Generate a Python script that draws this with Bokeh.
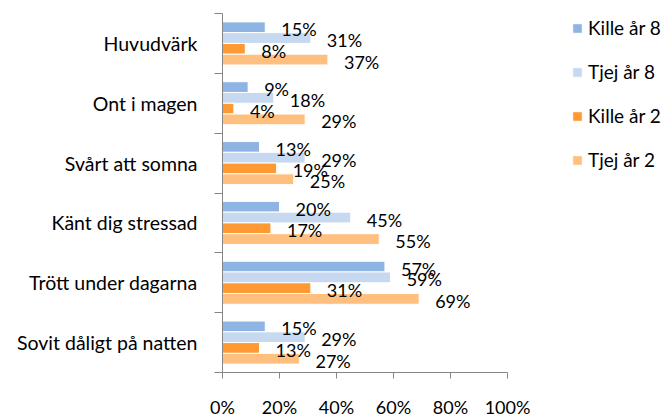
from bokeh.plotting import figure
from bokeh.models import ColumnDataSource, FixedTicker, Legend, LegendItem, Range1d
from bokeh.core.properties import value
from bokeh.embed import file_html
from bokeh.resources import INLINE

categories = ["Huvudvärk", "Ont i magen", "Svårt att somna", "Känt dig stressad",
              "Trött under dagarna", "Sovit dåligt på natten"]
series_names = ["Kille år 8", "Tjej år 8", "Kille år 2", "Tjej år 2"]
kille_ar8 = [15, 9, 13, 20, 57, 15]
tjej_ar8 = [31, 18, 29, 45, 59, 29]
kille_ar2 = [8, 4, 19, 17, 31, 13]
tjej_ar2 = [37, 29, 25, 55, 69, 27]
x_ticks = [0, 20, 40, 60, 80, 100]
x_tick_labels = ["0%", "20%", "40%", "60%", "80%", "100%"]
colors = ["#8EB4E3", "#C6D9F1", "#FF9933", "#FFBF7F"]

series = [kille_ar8, tjej_ar8, kille_ar2, tjej_ar2]
n = len(categories)
centers = [n - i - 0.5 for i in range(n)]
bar_h = 0.18
offsets = [0.27 - bar_h * j for j in range(len(series))]

FONT = "Lato"

p = figure(frame_width=285, frame_height=359, output_backend="svg", toolbar_location=None,
           x_range=Range1d(0, 100), y_range=Range1d(0, n),
           min_border_left=222, min_border_right=157, min_border_top=13, min_border_bottom=45)
p.outline_line_color = None
p.xgrid.grid_line_color = None
p.ygrid.grid_line_color = None
p.background_fill_color = "white"
p.border_fill_color = "white"

sources = []
renderers = []
for j, vals in enumerate(series):
    ys = [c + offsets[j] for c in centers]
    src = ColumnDataSource(dict(y=ys, right=vals, text=[f"{v}%" for v in vals]))
    sources.append(src)
    r = p.hbar(y="y", left=0, right="right", height=bar_h, source=src,
               fill_color=colors[j], line_color="white", line_width=1)
    renderers.append(r)

for src in sources:
    p.text(x="right", y="y", text="text", source=src, x_offset=16, y_offset=2,
           text_align="left", text_baseline="middle", text_font=value(FONT),
           text_font_size="18px", text_color="#000000")

# axes
p.xaxis.ticker = FixedTicker(ticks=x_ticks)
p.xaxis.major_label_overrides = {t: l for t, l in zip(x_ticks, x_tick_labels)}
p.xaxis.major_tick_out = 6
p.xaxis.major_tick_in = 0
p.xaxis.minor_tick_out = 0
p.xaxis.minor_tick_in = 0
p.xaxis.major_label_standoff = 17
p.xaxis.major_label_text_font_size = "18px"

p.yaxis.ticker = FixedTicker(ticks=centers, minor_ticks=list(range(n + 1)))
p.yaxis.major_label_overrides = {c: cat for c, cat in zip(centers, categories)}
p.yaxis.major_tick_out = 0
p.yaxis.major_tick_in = 0
p.yaxis.minor_tick_out = 8
p.yaxis.minor_tick_in = 0
p.yaxis.major_label_standoff = 17
p.yaxis.major_label_text_font_size = "19.5px"

for ax in (p.xaxis[0], p.yaxis[0]):
    ax.axis_line_color = "#868686"
    ax.major_tick_line_color = "#868686"
    ax.minor_tick_line_color = "#868686"
    ax.major_label_text_font = FONT
    ax.major_label_text_color = "#000000"

legend = Legend(items=[LegendItem(label=nm, renderers=[r]) for nm, r in zip(series_names, renderers)],
                location=(64, 201), padding=0, margin=0, spacing=21,
                glyph_width=12, glyph_height=12, label_height=20, label_standoff=5,
                border_line_color=None, background_fill_alpha=0,
                label_text_font=FONT, label_text_font_size="19px", label_text_color="#000000")
p.add_layout(legend, "right")

open("out.html", "w").write(file_html(p, INLINE))
